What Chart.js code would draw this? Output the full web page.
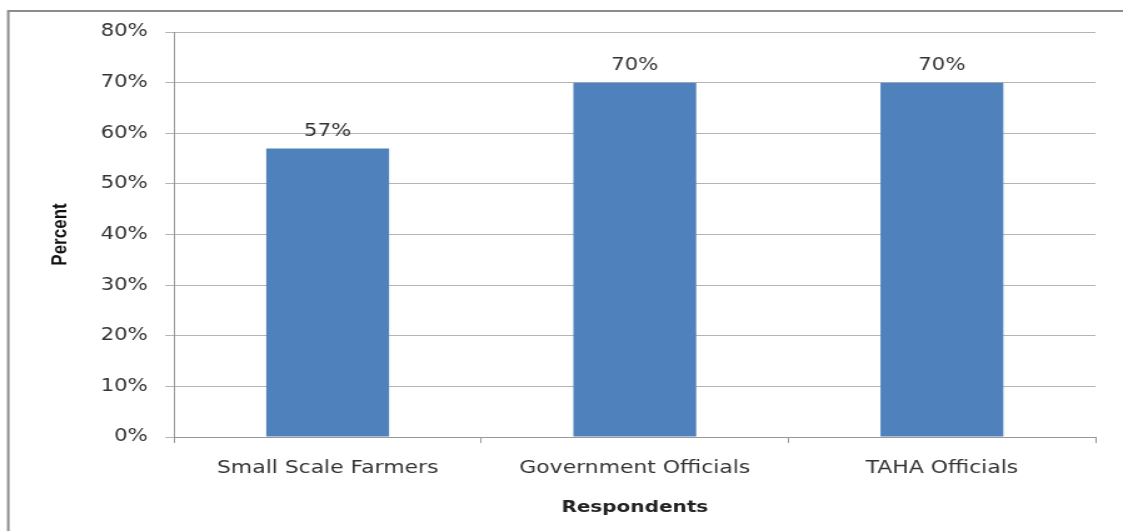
<!DOCTYPE html>
<html>
<head>
<meta charset="utf-8">
<script src="https://cdn.jsdelivr.net/npm/chart.js@4.4.1/dist/chart.umd.min.js"></script>
<style>
  body { margin: 0; background: #fff; }
</style>
</head>
<body>
<canvas id="chart" width="898" height="531" style="display:block;width:1123px;height:531px"></canvas>
<script>
  // data
  var categories = ['Small Scale Farmers', 'Government Officials', 'TAHA Officials'];
  var percentValues = [57, 70, 70];
  var yTicks = [0, 10, 20, 30, 40, 50, 60, 70, 80];

  // outer frame (left + top edge, runs off the picture)
  var framePlugin = {
    id: 'frame',
    beforeDraw: function (chart) {
      var ctx = chart.ctx;
      ctx.save();
      ctx.strokeStyle = '#8c8c8c';
      ctx.lineWidth = 2;
      ctx.beginPath();
      ctx.moveTo(6.6, chart.height);
      ctx.lineTo(6.6, 11);
      ctx.lineTo(chart.width, 11);
      ctx.stroke();
      ctx.restore();
    }
  };

  // value labels above the bars
  var labelPlugin = {
    id: 'barLabels',
    afterDatasetsDraw: function (chart) {
      var ctx = chart.ctx;
      var meta = chart.getDatasetMeta(0);
      ctx.save();
      ctx.font = '17px "DejaVu Sans"';
      ctx.fillStyle = '#333';
      ctx.textAlign = 'center';
      ctx.textBaseline = 'middle';
      meta.data.forEach(function (bar, i) {
        ctx.fillText(percentValues[i] + '%', bar.x, bar.y - 17);
      });
      ctx.restore();
    }
  };

  var ctx = document.getElementById('chart').getContext('2d');
  var chart = new Chart(ctx, {
    type: 'bar',
    data: {
      labels: categories,
      datasets: [{
        label: 'Percent',
        data: percentValues,
        backgroundColor: '#4F81BD',
        borderWidth: 0,
        barPercentage: 0.4,
        categoryPercentage: 1.0
      }]
    },
    options: {
      responsive: false,
      animation: false,
      devicePixelRatio: 1,
      layout: { padding: { left: 0, right: 22, top: 32, bottom: 0 } },
      plugins: {
        legend: { display: false },
        tooltip: { enabled: false }
      },
      scales: {
        x: {
          afterFit: function (scale) { scale.height = 94; },
          grid: {
            offset: true,
            drawOnChartArea: false,
            color: '#999',
            tickLength: 6
          },
          border: { color: '#999' },
          ticks: {
            color: '#333',
            font: { family: 'DejaVu Sans', size: 17.5 },
            padding: 15,
            maxRotation: 0
          },
          title: {
            display: true,
            text: 'Respondents',
            color: '#222',
            font: { family: 'DejaVu Sans', size: 16, weight: 'bold' },
            padding: { top: 0, bottom: 14 }
          }
        },
        y: {
          min: 0,
          max: 80,
          afterFit: function (scale) { scale.width = 139.2; },
          afterBuildTicks: function (scale) {
            scale.ticks = yTicks.map(function (v) { return { value: v }; });
          },
          grid: {
            color: '#b4b4b4',
            tickLength: 7
          },
          border: { color: '#999' },
          ticks: {
            color: '#333',
            font: { family: 'DejaVu Sans', size: 17 },
            padding: 14,
            callback: function (v) { return v + '%'; }
          },
          title: {
            display: true,
            text: 'Percent',
            color: '#111',
            font: { family: '"Liberation Sans"', size: 17, weight: 'bold' },
            padding: { top: 38, bottom: 0 }
          }
        }
      }
    },
    plugins: [framePlugin, labelPlugin]
  });
</script>
</body>
</html>
